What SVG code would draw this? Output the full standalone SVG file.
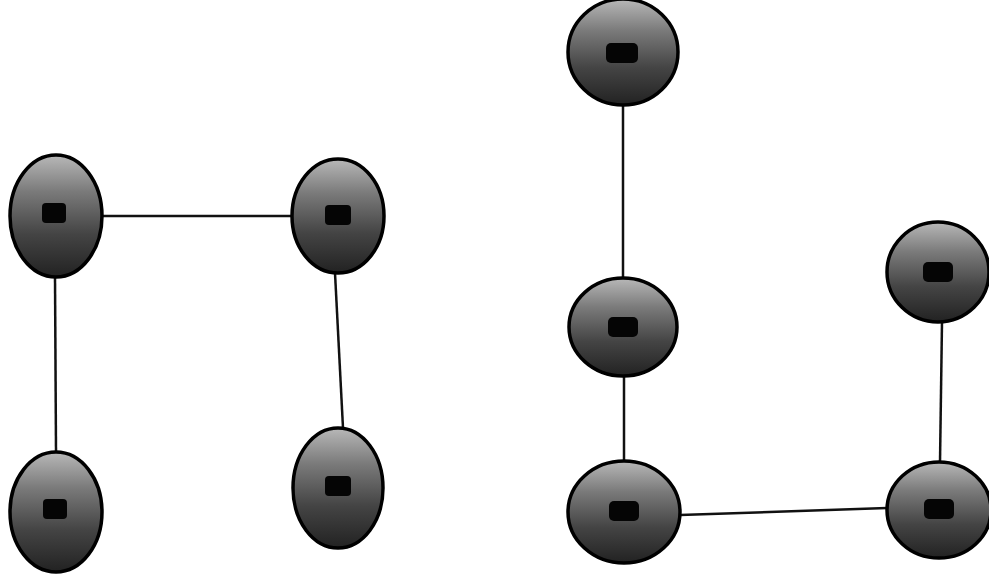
<svg xmlns="http://www.w3.org/2000/svg" width="989" height="575" viewBox="0 0 989 575">
<defs>
<linearGradient id="g" x1="0" y1="0" x2="0" y2="1">
<stop offset="0" stop-color="#b8b8b8"/>
<stop offset="0.3" stop-color="#7a7a7a"/>
<stop offset="0.65" stop-color="#444"/>
<stop offset="1" stop-color="#222"/>
</linearGradient>
<style>
.n{fill:url(#g);stroke:#000;stroke-width:3.5}
.b{fill:#050505}
.e{stroke:#111;stroke-width:2.5;fill:none}
</style>
</defs>
<rect width="989" height="575" fill="#fff"/>
<g id="connectors">
<line class="e" x1="102" y1="216" x2="292" y2="216"/>
<line class="e" x1="55" y1="277" x2="56" y2="452"/>
<line class="e" x1="335" y1="273" x2="343" y2="428"/>
<line class="e" x1="623" y1="105" x2="623" y2="278"/>
<line class="e" x1="624" y1="376" x2="624" y2="462"/>
<line class="e" x1="680" y1="515" x2="887" y2="508"/>
<line class="e" x1="942" y1="322" x2="940" y2="462"/>
</g>
<g id="n1"><ellipse class="n" cx="56" cy="216" rx="46" ry="61"/><rect class="b" x="42" y="203" width="24" height="20" rx="4"/></g>
<g id="n2"><ellipse class="n" cx="338" cy="216" rx="46" ry="57"/><rect class="b" x="325" y="205" width="26" height="20" rx="4"/></g>
<g id="n3"><ellipse class="n" cx="56" cy="512" rx="46" ry="60"/><rect class="b" x="43" y="499" width="24" height="20" rx="4"/></g>
<g id="n4"><ellipse class="n" cx="338" cy="488" rx="45" ry="60"/><rect class="b" x="325" y="476" width="26" height="20" rx="4"/></g>
<g id="n5"><ellipse class="n" cx="623" cy="52" rx="55" ry="53"/><rect class="b" x="606" y="43" width="32" height="20" rx="5"/></g>
<g id="n6"><ellipse class="n" cx="623" cy="327" rx="54" ry="49"/><rect class="b" x="608" y="317" width="30" height="20" rx="5"/></g>
<g id="n7"><ellipse class="n" cx="624" cy="512" rx="56" ry="51"/><rect class="b" x="609" y="501" width="30" height="20" rx="5"/></g>
<g id="n8"><ellipse class="n" cx="938" cy="272" rx="51" ry="50"/><rect class="b" x="923" y="262" width="30" height="20" rx="5"/></g>
<g id="n9"><ellipse class="n" cx="939" cy="510" rx="52" ry="48"/><rect class="b" x="924" y="499" width="30" height="20" rx="5"/></g>
</svg>
